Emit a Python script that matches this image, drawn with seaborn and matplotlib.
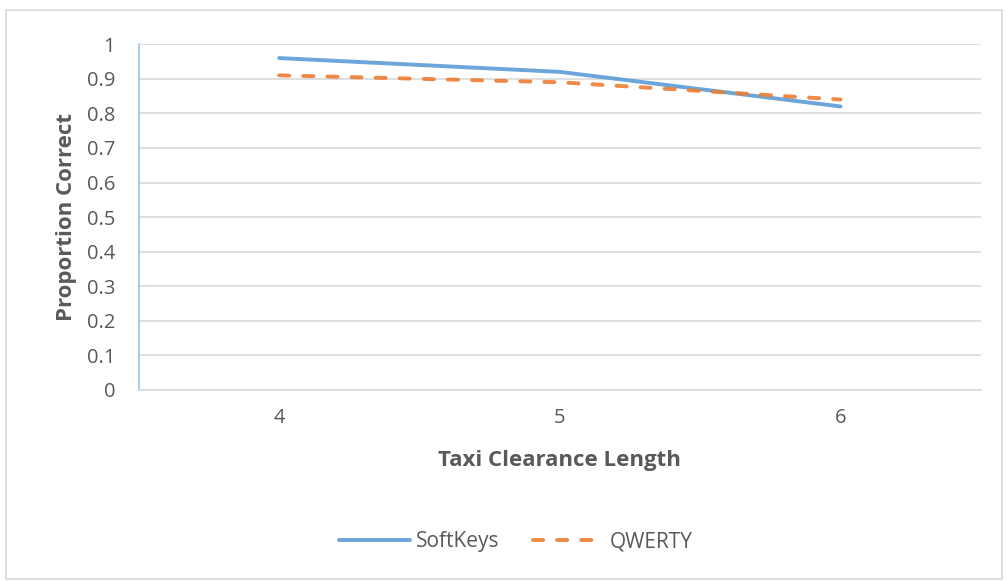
import matplotlib
matplotlib.use("Agg")
import matplotlib.pyplot as plt
import seaborn as sns
import pandas as pd
from matplotlib.patches import Rectangle
from matplotlib.lines import Line2D

categories = [4, 5, 6]
softkeys = [0.96, 0.92, 0.82]
qwerty = [0.91, 0.89, 0.84]
series_names = ["SoftKeys", "QWERTY"]
y_ticks = [0, 0.1, 0.2, 0.3, 0.4, 0.5, 0.6, 0.7, 0.8, 0.9, 1]
y_tick_labels = ["0", "0.1", "0.2", "0.3", "0.4", "0.5", "0.6", "0.7", "0.8", "0.9", "1"]

sns.set_theme(style="white")
plt.rcParams["font.family"] = ["Open Sans", "DejaVu Sans"]

df = pd.DataFrame({
    "x": categories * 2,
    "y": softkeys + qwerty,
    "series": [series_names[0]] * 3 + [series_names[1]] * 3,
})

fig = plt.figure(figsize=(10.06, 5.82), dpi=100)
ax = fig.add_axes([0.138, 0.330, 0.837, 0.594])

palette = {"SoftKeys": "#5B9BD5", "QWERTY": "#ED7D31"}
dash_pat = (2.6, 3.6)
sns.lineplot(data=df, x="x", y="y", hue="series", style="series",
             palette=palette, dashes={"SoftKeys": "", "QWERTY": dash_pat},
             linewidth=2.8, ax=ax, legend=False)
for ln in ax.get_lines():
    ln.set_solid_capstyle("round")
    ln.set_dash_capstyle("round")
    ln.set_alpha(0.9)

ax.set_xlim(3.5, 6.5)
ax.set_ylim(0, 1)
ax.set_yticks(y_ticks)
ax.set_yticklabels(y_tick_labels)
ax.set_xticks(categories)
ax.set_xticklabels([str(c) for c in categories])
ax.yaxis.grid(True, color="#D9D9D9", linewidth=1.2)
ax.set_axisbelow(True)
for s in ["top", "right"]:
    ax.spines[s].set_visible(False)
ax.spines["left"].set_color("#9DC3E6")
ax.spines["left"].set_linewidth(1.2)
ax.spines["bottom"].set_color("#D9D9D9")
ax.spines["bottom"].set_linewidth(1.2)
ax.tick_params(axis="both", length=0, labelsize=14.5, colors="#595959")
ax.tick_params(axis="y", pad=17)
ax.tick_params(axis="x", pad=13)

ax.set_xlabel("Taxi Clearance Length", fontsize=16, fontweight="bold", color="#595959", labelpad=16)
ax.set_ylabel("Proportion Correct", fontsize=16, fontweight="bold", color="#595959", labelpad=7)

handles = [
    Line2D([], [], color=palette["SoftKeys"], linewidth=2.8, solid_capstyle="round", alpha=0.9),
    Line2D([], [], color=palette["QWERTY"], linewidth=2.8, linestyle=(0, dash_pat),
           dash_capstyle="round", alpha=0.9),
]
fig.legend(handles, series_names, loc="center", bbox_to_anchor=(0.513, 0.069), ncol=2,
           frameon=False, fontsize=15, handlelength=3.4, columnspacing=1.6,
           labelcolor="#595959", handletextpad=0.3)

fig.patches.append(Rectangle((0.006, 0.006), 0.99, 0.977, transform=fig.transFigure,
                             fill=False, edgecolor="#D9D9D9", linewidth=1.2))

fig.savefig("out.png", dpi=100)
